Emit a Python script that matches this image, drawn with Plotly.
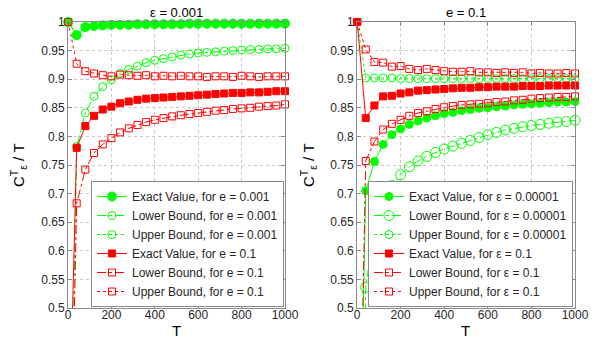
import plotly.graph_objects as go

# ---------------- data ----------------
T = [1, 40, 80, 120, 160, 200, 240, 280, 320, 360, 400, 440, 480, 520,
     560, 600, 640, 680, 720, 760, 800, 840, 880, 920, 960, 1000]

# left panel (e = 0.001 green, e = 0.1 red)
L_green_exact = [1.0, 0.977, 0.991, 0.993, 0.994, 0.995, 0.995, 0.995, 0.996, 0.996, 0.996, 0.996, 0.996,
                 0.996, 0.997, 0.997, 0.997, 0.997, 0.997, 0.997, 0.997, 0.997, 0.997, 0.997, 0.997, 0.997]
L_green_lower = [0.0, 0.782, 0.841, 0.870, 0.887, 0.899, 0.910, 0.917, 0.923, 0.929, 0.933, 0.936, 0.939,
                 0.942, 0.944, 0.946, 0.947, 0.948, 0.949, 0.950, 0.951, 0.952, 0.952, 0.953, 0.953, 0.954]
L_green_upper = [1.0, 0.978, 0.992, 0.994, 0.995, 0.996, 0.996, 0.996, 0.997, 0.997, 0.997, 0.997, 0.997,
                 0.997, 0.998, 0.998, 0.998, 0.998, 0.998, 0.998, 0.998, 0.998, 0.998, 0.998, 0.998, 0.998]
L_red_exact = [0.2, 0.780, 0.818, 0.836, 0.847, 0.852, 0.858, 0.861, 0.864, 0.866, 0.867, 0.868, 0.869,
               0.870, 0.871, 0.872, 0.873, 0.874, 0.875, 0.876, 0.876, 0.877, 0.877, 0.878, 0.879, 0.879]
L_red_lower = [0.0, 0.683, 0.742, 0.771, 0.786, 0.797, 0.807, 0.814, 0.820, 0.825, 0.829, 0.832, 0.835,
               0.837, 0.839, 0.841, 0.843, 0.845, 0.846, 0.848, 0.849, 0.850, 0.852, 0.853, 0.854, 0.856]
L_red_upper = [1.0, 0.927, 0.914, 0.910, 0.907, 0.905, 0.908, 0.907, 0.906, 0.907, 0.905, 0.906, 0.905,
               0.906, 0.905, 0.905, 0.904, 0.905, 0.905, 0.904, 0.906, 0.905, 0.904, 0.905, 0.905, 0.905]

# right panel (eps = 0.00001 green, eps = 0.1 red)
R_green_exact = [0.0, 0.705, 0.756, 0.786, 0.803, 0.813, 0.821, 0.827, 0.832, 0.836, 0.840, 0.842, 0.845,
                 0.847, 0.849, 0.850, 0.852, 0.853, 0.855, 0.856, 0.857, 0.858, 0.859, 0.860, 0.860, 0.861]
R_green_lower = [-0.2, 0.536, 0.642, 0.688, 0.714, 0.733, 0.747, 0.757, 0.765, 0.772, 0.778, 0.783, 0.788,
                 0.793, 0.798, 0.803, 0.807, 0.811, 0.814, 0.817, 0.819, 0.821, 0.823, 0.825, 0.826, 0.828]
R_green_upper = [1.0, 0.902, 0.902, 0.902, 0.902, 0.901, 0.901, 0.901, 0.901, 0.901, 0.901, 0.901, 0.901,
                 0.901, 0.901, 0.901, 0.901, 0.901, 0.901, 0.901, 0.901, 0.901, 0.901, 0.901, 0.901, 0.901]
R_red_exact = [1.0, 0.832, 0.854, 0.870, 0.871, 0.875, 0.877, 0.880, 0.881, 0.882, 0.883, 0.884, 0.885,
               0.885, 0.886, 0.886, 0.887, 0.887, 0.887, 0.888, 0.888, 0.888, 0.889, 0.889, 0.889, 0.889]
R_red_lower = [0.0, 0.757, 0.791, 0.812, 0.822, 0.829, 0.836, 0.841, 0.844, 0.848, 0.851, 0.853, 0.855,
               0.856, 0.857, 0.858, 0.860, 0.861, 0.863, 0.864, 0.866, 0.867, 0.868, 0.869, 0.869, 0.870]
R_red_upper = [1.0, 0.952, 0.930, 0.929, 0.922, 0.923, 0.918, 0.916, 0.918, 0.916, 0.914, 0.913, 0.913,
               0.914, 0.912, 0.912, 0.911, 0.912, 0.911, 0.912, 0.910, 0.911, 0.910, 0.910, 0.911, 0.910]

x_ticks = [0, 200, 400, 600, 800, 1000]
y_ticks = [0.5, 0.55, 0.6, 0.65, 0.7, 0.75, 0.8, 0.85, 0.9, 0.95, 1.0]
y_tick_text = ["0.5", "0.55", "0.6", "0.65", "0.7", "0.75", "0.8", "0.85", "0.9", "0.95", "1"]

L_names = ["Exact Value, for e = 0.001", "Lower Bound, for e = 0.001", "Upper Bound, for e = 0.001",
           "Exact Value, for e = 0.1", "Lower Bound, for e = 0.1", "Upper Bound, for e = 0.1"]
R_names = ["Exact Value, for ε = 0.00001", "Lower Bound, for ε = 0.00001", "Upper Bound, for ε = 0.00001",
           "Exact Value, for ε = 0.1", "Lower Bound, for ε = 0.1", "Upper Bound, for ε = 0.1"]

GREEN = "#00ff00"
RED = "#ff0000"
FONT = "Liberation Sans, Arial, sans-serif"

fig = go.Figure()


def add(y, name, color, symbol, size, dash, xa, ya, leg):
    fig.add_trace(go.Scatter(
        x=T, y=y, name=name, mode="lines+markers",
        line=dict(color=color, width=1, dash=dash),
        marker=dict(symbol=symbol, size=size, color=color, line=dict(color=color, width=1)),
        xaxis=xa, yaxis=ya, legend=leg, cliponaxis=False,
    ))


# left panel
add(L_green_exact, L_names[0], GREEN, "circle", 9, "solid", "x", "y", "legend")
add(L_green_lower, L_names[1], GREEN, "circle-open", 8, "dashdot", "x", "y", "legend")
add(L_green_upper, L_names[2], GREEN, "circle-open", 8, "dot", "x", "y", "legend")
add(L_red_exact, L_names[3], RED, "square", 7, "solid", "x", "y", "legend")
add(L_red_lower, L_names[4], RED, "square-open", 7, "dashdot", "x", "y", "legend")
add(L_red_upper, L_names[5], RED, "square-open", 7, "dot", "x", "y", "legend")

# right panel
add(R_green_exact, R_names[0], GREEN, "circle", 8, "solid", "x2", "y2", "legend2")
add(R_green_lower, R_names[1], GREEN, "circle-open", 10, "dashdot", "x2", "y2", "legend2")
add(R_green_upper, R_names[2], GREEN, "circle-open", 8, "dot", "x2", "y2", "legend2")
add(R_red_exact, R_names[3], RED, "square", 7, "solid", "x2", "y2", "legend2")
add(R_red_lower, R_names[4], RED, "square-open", 7, "dashdot", "x2", "y2", "legend2")
add(R_red_upper, R_names[5], RED, "square-open", 7, "dot", "x2", "y2", "legend2")

W, H = 600, 343
top, bottom = 22, 308
ydom = [1 - bottom / H, 1 - top / H]
L_dom = [68 / W, 285 / W]
R_dom = [357 / W, 575 / W]

axis_common = dict(
    showline=True, linecolor="#8a8a8a", linewidth=1, mirror="ticks",
    ticks="inside", ticklen=4, tickcolor="#8a8a8a", automargin=False,
    showgrid=True, gridcolor="#c8c8c8", griddash="dot", gridwidth=1,
    zeroline=False, tickfont=dict(family=FONT, size=12, color="#262626"),
)
xax = dict(range=[0, 1000], tickvals=x_ticks, ticklabelstandoff=-4, **axis_common)
yax = dict(range=[0.5, 1.0], tickvals=y_ticks, ticktext=y_tick_text, **axis_common)

legend_common = dict(
    bgcolor="white", bordercolor="#8a8a8a", borderwidth=1,
    font=dict(family=FONT, size=12, color="#262626"),
    xanchor="right", yanchor="bottom", itemwidth=30,
    tracegroupgap=0, traceorder="normal",
)

fig.update_layout(
    width=W, height=H, margin=dict(l=0, r=0, t=0, b=0, autoexpand=False),
    paper_bgcolor="white", plot_bgcolor="white",
    xaxis=dict(domain=L_dom, anchor="y", **xax),
    yaxis=dict(domain=ydom, anchor="x", **yax),
    xaxis2=dict(domain=R_dom, anchor="y2", **xax),
    yaxis2=dict(domain=ydom, anchor="x2", **yax),
    legend=dict(x=284 / W, y=1 - 307 / H, **legend_common),
    legend2=dict(x=573 / W, y=1 - 307 / H, **legend_common),
    font=dict(family=FONT, color="#262626"),
)

ann_font = dict(family=FONT, size=13, color="#000000")
lab_font = dict(family=FONT, size=15, color="#000000")
fig.add_annotation(text="ε = 0.001", x=(L_dom[0] + L_dom[1]) / 2, y=1 - 13 / H, xref="paper", yref="paper",
                   showarrow=False, font=ann_font, xanchor="center", yanchor="middle")
fig.add_annotation(text="e = 0.1", x=(R_dom[0] + R_dom[1]) / 2, y=1 - 13 / H, xref="paper", yref="paper",
                   showarrow=False, font=ann_font, xanchor="center", yanchor="middle")
fig.add_annotation(text="T", x=(L_dom[0] + L_dom[1]) / 2, y=1 - 330 / H, xref="paper", yref="paper",
                   showarrow=False, font=lab_font, xanchor="center", yanchor="middle")
fig.add_annotation(text="T", x=(R_dom[0] + R_dom[1]) / 2, y=1 - 330 / H, xref="paper", yref="paper",
                   showarrow=False, font=lab_font, xanchor="center", yanchor="middle")
ylab = "C<sup>T</sup><sub>ε</sub> / T"
fig.add_annotation(text=ylab, x=18 / W, y=1 - 165 / H, xref="paper", yref="paper", textangle=-90,
                   showarrow=False, font=lab_font, xanchor="center", yanchor="middle")
fig.add_annotation(text=ylab, x=308 / W, y=1 - 165 / H, xref="paper", yref="paper", textangle=-90,
                   showarrow=False, font=lab_font, xanchor="center", yanchor="middle")

fig.write_html("out.html", config={"displayModeBar": False},
               post_script="document.body.style.margin='0';document.body.style.overflow='hidden';")
